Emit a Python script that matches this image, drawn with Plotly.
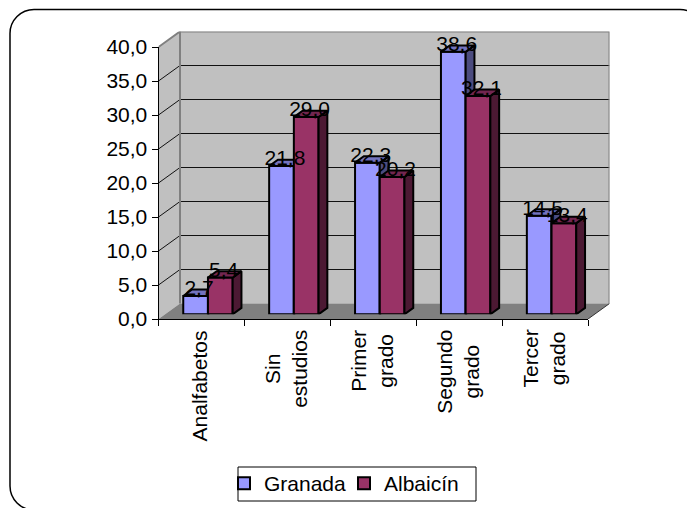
import plotly.graph_objects as go

W, H = 695, 508
OFF = 8                      # the page's own body margin
FW, FH = W - OFF, H - OFF    # figure size that fits the window
FONT = 21

categories = ["Analfabetos", "Sin<br>estudios", "Primer<br>grado", "Segundo<br>grado", "Tercer<br>grado"]
granada = [2.7, 21.8, 22.3, 38.6, 14.5]
albaicin = [5.4, 29.0, 20.2, 32.1, 13.4]
y_ticks = [0, 5, 10, 15, 20, 25, 30, 35, 40]
series_names = ["Granada", "Albaicín"]

# geometry in window pixels
FX0, FX1, FY0, FY1 = 158.5, 588.0, 319.0, 47.0   # front plane
BDX, BDY = 21.5, -15.5      # back plane offset
PDX, PDY = 6.5, -4.7        # bar plane offset
SDX, SDY = 8.8, -6.4        # bar depth
BW = 24.7                   # bar width
LABEL_DROP = 4.5            # data labels sit this many px lower than plain "top center"
n = len(categories)
ux = (FX1 - FX0) / n        # px per category
uy = (FY0 - FY1) / 40.0     # px per value

def px(a): return (a - OFF) / FW
def py(a): return 1 - (a - OFF) / FH
def dx(a, b): return [px(a), px(b)]
def dy(a, b): return [py(a), py(b)]

fig = go.Figure()
xr = [0.5, n + 0.5]

layout_axes = dict(
    xaxis=dict(domain=dx(FX0, FX1 + BDX), range=[0.5, 0.5 + (FX1 + BDX - FX0) / ux], visible=False),
    yaxis=dict(domain=dy(FY0, FY1 + BDY), range=[0, (FY0 - FY1 - BDY) / uy], visible=False),
    xaxis2=dict(domain=dx(FX0, FX1), range=xr, anchor="y2", tickvals=[i + 0.5 for i in range(n + 1)],
                showticklabels=False, ticks="outside", ticklen=6, tickwidth=1, tickcolor="black",
                showline=True, linecolor="black", linewidth=1, showgrid=False, zeroline=False),
    yaxis2=dict(domain=dy(FY0, FY1), range=[0, 40], anchor="x2", tickvals=y_ticks, tickformat=".1f",
                ticks="outside", ticklen=6, tickwidth=1, tickcolor="black",
                showline=True, linecolor="black", linewidth=1, showgrid=False, zeroline=False,
                tickfont=dict(size=FONT, color="black")),
)
for k in (3, 4):
    layout_axes[f"xaxis{k}"] = dict(domain=dx(FX0 + PDX, FX1 + PDX), range=xr, anchor=f"y{k}", visible=False)
    layout_axes[f"yaxis{k}"] = dict(domain=dy(FY0 + PDY, FY1 + PDY), range=[0, 40], anchor=f"x{k}", visible=False)

bx = lambda t: 0.5 + t * BDX / ux
by = lambda v, t: v + t * (-BDY) / uy
xend = n + 0.5
xback = xend + bx(1) - 0.5

def poly(xs, ys, fill, line="rgba(0,0,0,0)", w=0, xa="x", ya="y"):
    fig.add_trace(go.Scatter(x=xs, y=ys, mode="lines", fill="toself", fillcolor=fill,
                             line=dict(color=line, width=w), showlegend=False, hoverinfo="skip",
                             xaxis=xa, yaxis=ya, cliponaxis=False))

def seg(xs, ys, color, w):
    fig.add_trace(go.Scatter(x=xs, y=ys, mode="lines", line=dict(color=color, width=w), showlegend=False,
                             hoverinfo="skip", xaxis="x", yaxis="y", cliponaxis=False))

# walls and floor
poly([bx(0), bx(1), bx(1), bx(0), bx(0)], [0, by(0, 1), by(40, 1), 40, 0], "#c0c0c0")
poly([xback, bx(1), bx(1), xback, xback], [by(0, 1), by(0, 1), by(40, 1), by(40, 1), by(0, 1)], "#c0c0c0")
poly([bx(0), xend, xback, bx(1), bx(0)], [0, 0, by(0, 1), by(0, 1), 0], "#808080")
# gridlines
for v in y_ticks[1:-1]:
    seg([bx(0), bx(1), xback], [by(v, 0), by(v, 1), by(v, 1)], "#111111", 1)
# wall edges
seg([bx(0), bx(1), xback, xback], [40, by(40, 1), by(40, 1), by(0, 1)], "#808080", 2)
seg([bx(1), bx(1)], [by(0, 1), by(40, 1)], "#808080", 2)
seg([xend, xback], [0, by(0, 1)], "#333333", 1)
# keeps the front axes on the chart
fig.add_trace(go.Scatter(x=[1], y=[0], mode="markers", marker=dict(opacity=0), showlegend=False,
                         hoverinfo="skip", xaxis="x2", yaxis="y2"))

wu = BW / ux
sx = SDX / ux
sy = -SDY / uy
xs = list(range(1, n + 1))
edge = dict(color="black", width=2)

def faces(values, x0, top, side, xa, ya):
    for i, v in zip(xs, values):
        l, r = i + x0, i + x0 + wu
        poly([r, r + sx, r + sx, r, r], [0, sy, v + sy, v, 0], side, "black", 2, xa, ya)
        poly([l, r, r + sx, l + sx, l], [v, v, v + sy, v + sy, v], top, "black", 2, xa, ya)

fig.add_trace(go.Bar(x=xs, y=granada, width=wu, offset=-wu, name=series_names[0],
                     marker=dict(color="#9999ff", line=edge), xaxis="x3", yaxis="y3", hoverinfo="skip"))
faces(granada, -wu, "#7373bf", "#4c4c7f", "x3", "y3")
fig.add_trace(go.Bar(x=xs, y=albaicin, width=wu, offset=0, name=series_names[1],
                     marker=dict(color="#993366", line=edge), xaxis="x4", yaxis="y4", hoverinfo="skip"))
faces(albaicin, 0, "#732650", "#4c1933", "x4", "y4")

# data labels
for values, x0 in ((granada, -wu / 2), (albaicin, wu / 2)):
    fig.add_trace(go.Scatter(x=[i + x0 + sx / 2 - 1 / ux for i in xs], y=[v - LABEL_DROP / uy for v in values],
                             mode="text",
                             text=[f"{v:.1f}".replace(".", ",") for v in values],
                             textposition="top center", textfont=dict(size=FONT, color="black"),
                             showlegend=False, hoverinfo="skip", xaxis="x4", yaxis="y4", cliponaxis=False))

annotations = [dict(x=i - 1.5 / ux, y=py(328), xref="x2", yref="paper", text=c, textangle=-90, showarrow=False,
                    xanchor="center", yanchor="top", align="center", font=dict(size=FONT, color="black"))
               for i, c in zip(xs, categories)]

# outer rounded frame (runs past the window on the right and bottom) and legend box
R = 24
K = 0.45 * R
fx0, fx1, fy0, fy1 = 10, 704, 9.5, 510
def pt(a, b): return f"{px(a):.5f},{py(b):.5f}"
p = (f"M{pt(fx0 + R, fy0)} L{pt(fx1 - R, fy0)} C{pt(fx1 - K, fy0)} {pt(fx1, fy0 + K)} {pt(fx1, fy0 + R)} "
     f"L{pt(fx1, fy1 - R)} C{pt(fx1, fy1 - K)} {pt(fx1 - K, fy1)} {pt(fx1 - R, fy1)} "
     f"L{pt(fx0 + R, fy1)} C{pt(fx0 + K, fy1)} {pt(fx0, fy1 - K)} {pt(fx0, fy1 - R)} "
     f"L{pt(fx0, fy0 + R)} C{pt(fx0, fy0 + K)} {pt(fx0 + K, fy0)} {pt(fx0 + R, fy0)} Z")
shapes = [
    dict(type="path", path=p, xref="paper", yref="paper", line=dict(color="black", width=1.5), layer="below"),
    dict(type="rect", xref="paper", yref="paper", x0=px(238), x1=px(476), y0=py(467), y1=py(501),
         line=dict(color="black", width=1), fillcolor="white", layer="below"),
]

fig.update_layout(
    width=FW, height=FH, margin=dict(l=0, r=0, t=0, b=0, autoexpand=False), autosize=False,
    paper_bgcolor="white", plot_bgcolor="rgba(0,0,0,0)",
    font=dict(family="Liberation Sans, Arial, sans-serif", size=FONT, color="black"),
    separators=",.", barmode="overlay", shapes=shapes, annotations=annotations,
    legend=dict(orientation="h", x=px(224), y=py(463), xanchor="left", yanchor="top",
                bgcolor="rgba(0,0,0,0)", borderwidth=0, font=dict(size=FONT),
                entrywidth=75, entrywidthmode="pixels"),
    **layout_axes,
)
fig.write_html("out.html")
